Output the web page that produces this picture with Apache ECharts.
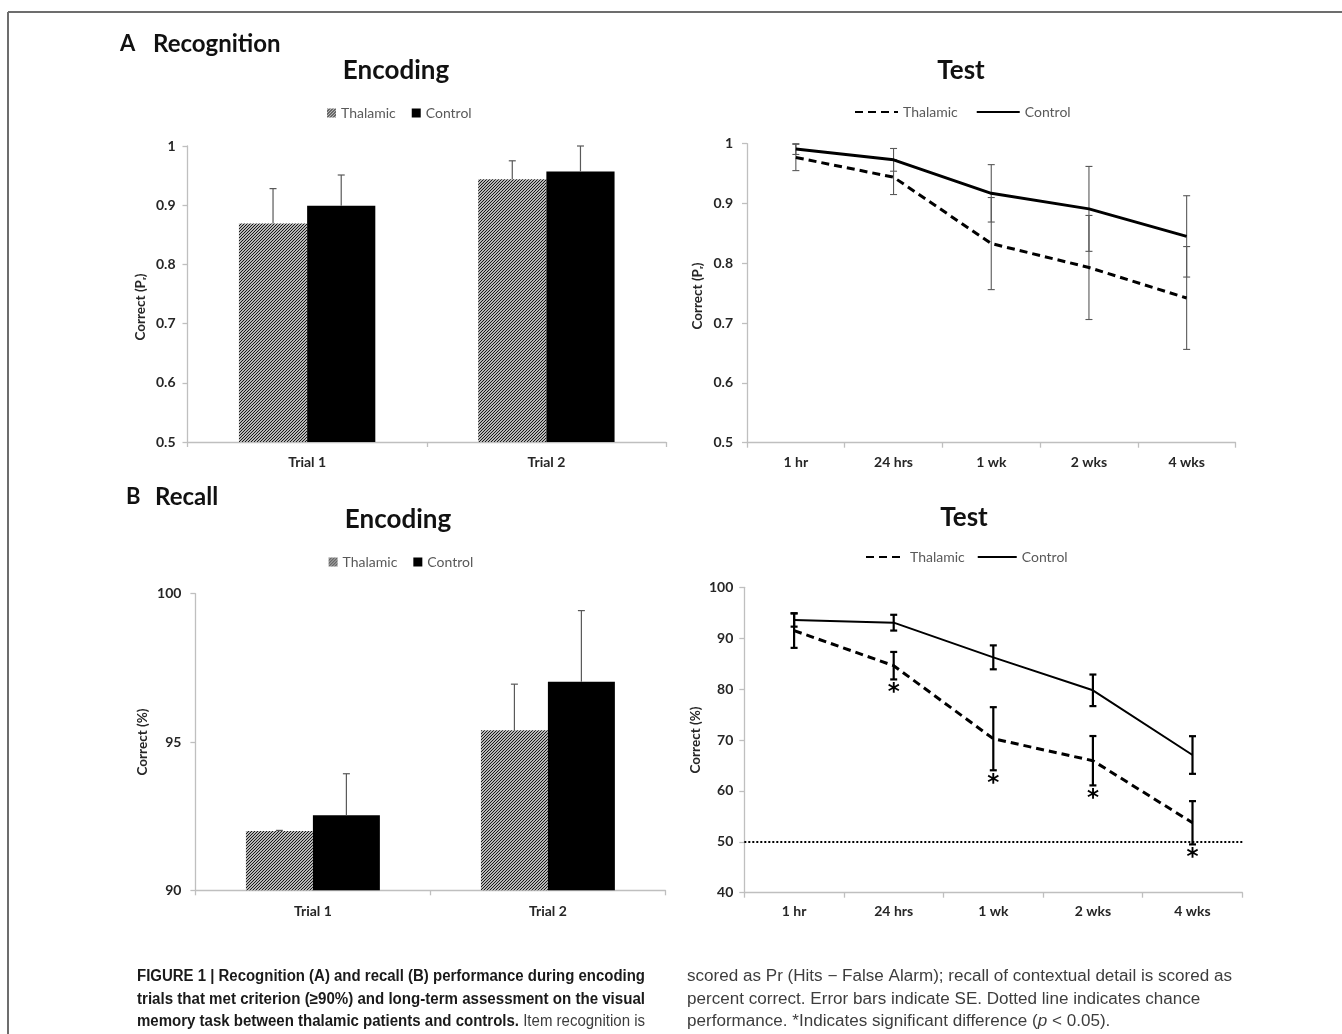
<!DOCTYPE html>
<html><head><meta charset="utf-8">
<script src="https://cdn.jsdelivr.net/npm/echarts@6/dist/echarts.min.js"></script>
<style>html,body{margin:0;padding:0;background:#fff}#c{width:1342px;height:1034px}</style>
</head><body><div id="c"></div>
<script>
// ---- data ----
const encCategories = ['Trial 1', 'Trial 2'];
const testCategories = ['1 hr', '24 hrs', '1 wk', '2 wks', '4 wks'];

const recogEncThalamic = [0.869, 0.944];
const recogEncThalamicSE = [0.059, 0.031];
const recogEncControl = [0.899, 0.957];
const recogEncControlSE = [0.052, 0.043];

const recogTestThalamic = [0.977, 0.944, 0.833, 0.793, 0.742];
const recogTestThalamicSE = [0.022, 0.029, 0.077, 0.087, 0.086];
const recogTestControl = [0.991, 0.973, 0.917, 0.891, 0.845];
const recogTestControlSE = [0.009, 0.019, 0.048, 0.071, 0.068];

const recallEncThalamic = [92.0, 95.4];
const recallEncThalamicSE = [0.02, 1.55];
const recallEncControl = [92.53, 97.03];
const recallEncControlSE = [1.4, 2.4];

const recallTestThalamic = [91.5, 84.6, 70.25, 65.93, 53.74];
const recallTestThalamicSE = [3.4, 2.7, 6.2, 4.85, 4.25];
const recallTestControl = [93.57, 93.05, 86.24, 79.76, 67.05];
const recallTestControlSE = [1.3, 1.55, 2.35, 3.1, 3.7];
const recallTestSignificant = [false, true, true, true, true];
const chanceLevel = 50;

// ---- styles ----
const FONT = 'Lato, "Open Sans", sans-serif';
const CAP_B = 'bold 16px "Liberation Sans", Arial, sans-serif';
const CAP_R = '16px "Liberation Sans", Arial, sans-serif';
const CAP_I = 'italic 16px "Liberation Sans", Arial, sans-serif';

const pc = document.createElement('canvas');
pc.width = 3; pc.height = 3;
const g = pc.getContext('2d');
g.fillStyle = '#fff'; g.fillRect(0, 0, 3, 3);
g.strokeStyle = '#111'; g.lineWidth = 1.15;
g.beginPath();
g.moveTo(0, 3); g.lineTo(3, 0);
g.moveTo(-1, 1); g.lineTo(1, -1);
g.moveTo(2, 4); g.lineTo(4, 2);
g.stroke();
const hatch = { image: pc, repeat: 'repeat' };

const mctx = document.createElement('canvas').getContext('2d');
function tw(font, s) { mctx.font = font; return mctx.measureText(s).width; }

function withSE(vals, se) { return vals.map((v, i) => [i, v, se[i]]); }

function barErr(sign, color, width) {
  return function (params, api) {
    const x = api.value(0), v = api.value(1), se = api.value(2);
    const band = api.size([1, 0])[0];
    const off = sign * band * 0.57 / 4;
    const p0 = api.coord([x, v]);
    const p1 = api.coord([x, v + se]);
    const cx = p0[0] + off;
    const st = { stroke: color, lineWidth: width };
    return { type: 'group', children: [
      { type: 'line', shape: { x1: cx, y1: p0[1], x2: cx, y2: p1[1] }, style: st },
      { type: 'line', shape: { x1: cx - 3.5, y1: p1[1], x2: cx + 3.5, y2: p1[1] }, style: st }
    ]};
  };
}
function lineErr(color, width, cap) {
  return function (params, api) {
    const x = api.value(0), v = api.value(1), se = api.value(2);
    const hi = api.coord([x, v + se]);
    const lo = api.coord([x, v - se]);
    const cx = hi[0];
    const st = { stroke: color, lineWidth: width };
    return { type: 'group', children: [
      { type: 'line', shape: { x1: cx, y1: hi[1], x2: cx, y2: lo[1] }, style: st },
      { type: 'line', shape: { x1: cx - cap, y1: hi[1], x2: cx + cap, y2: hi[1] }, style: st },
      { type: 'line', shape: { x1: cx - cap, y1: lo[1], x2: cx + cap, y2: lo[1] }, style: st }
    ]};
  };
}

const axisLineStyle = { color: '#bfbfbf', width: 1.3 };
const tickLabel = { color: '#262626', fontWeight: 'bold', fontSize: 14, fontFamily: FONT };

function xCat(grid, cats, margin) {
  return { type: 'category', gridIndex: grid, data: cats,
    axisLine: { lineStyle: axisLineStyle },
    axisTick: { show: true, length: 5, lineStyle: axisLineStyle },
    axisLabel: Object.assign({ margin: margin }, tickLabel),
    splitLine: { show: false } };
}
function yVal(grid, min, max, interval, margin) {
  return { type: 'value', gridIndex: grid, min: min, max: max, interval: interval,
    axisLine: { show: true, lineStyle: axisLineStyle },
    axisTick: { show: true, length: 5, lineStyle: axisLineStyle },
    axisLabel: Object.assign({ margin: margin }, tickLabel),
    splitLine: { show: false } };
}

const legendText = { color: '#595959', fontSize: 14, fontFamily: FONT };
const nm = n => n.split(' (')[0];

function txt(x, y, text, font, opts) {
  return Object.assign({ type: 'text', x: x, y: y, silent: true,
    style: Object.assign({ text: text, font: font, fill: '#111', align: 'center', verticalAlign: 'middle' }, (opts && opts.style) || {}) },
    (opts && opts.el) || {});
}

// caption lines
const capLeft = [
  [['b', 'FIGURE 1 | Recognition (A) and recall (B) performance during encoding']],
  [['b', 'trials that met criterion (≥90%) and long-term assessment on the visual']],
  [['b', 'memory task between thalamic patients and controls.'], ['r', ' Item recognition is']]
];
const capRight = [
  [['r', 'scored as Pr (Hits − False Alarm); recall of contextual detail is scored as']],
  [['r', 'percent correct. Error bars indicate SE. Dotted line indicates chance']],
  [['r', 'performance. *Indicates significant difference ('], ['i', 'p'], ['r', ' < 0.05).']]
];
const capFonts = { b: CAP_B, r: CAP_R, i: CAP_I };
const capRich = {
  b: { font: CAP_B, fill: '#1a1a1a' },
  r: { font: CAP_R, fill: '#3d3d3d' },
  i: { font: CAP_I, fill: '#3d3d3d' }
};
function lineWidth(parts) { return parts.reduce((s, p) => s + tw(capFonts[p[0]], p[1]), 0); }
function richStr(parts) { return parts.map(p => '{' + p[0] + '|' + p[1] + '}').join(''); }
const capY = [977, 1000, 1022];
const capEls = [];
capLeft.forEach((parts, i) => {
  capEls.push({ type: 'text', x: 137, y: capY[i], scaleX: 508 / lineWidth(parts), silent: true,
    style: { text: richStr(parts), verticalAlign: 'middle', rich: capRich } });
});
const sxR = 545 / lineWidth(capRight[0]);
capRight.forEach((parts, i) => {
  capEls.push({ type: 'text', x: 687, y: capY[i], scaleX: sxR, silent: true,
    style: { text: richStr(parts), verticalAlign: 'middle', rich: capRich } });
});

const lineLegendBase = { formatter: nm, textStyle: legendText, selectedMode: false,
  itemStyle: { opacity: 0, borderWidth: 0 } };

const chart = echarts.init(document.getElementById('c'), null, { renderer: 'canvas' });
chart.setOption({
  animation: false,
  backgroundColor: '#fff',
  grid: [
    { left: 187.5, top: 146, width: 478.5, height: 296 },
    { left: 747, top: 143.7, width: 488.5, height: 299 },
    { left: 195.4, top: 593.7, width: 470, height: 296.6 },
    { left: 744.3, top: 587.3, width: 498, height: 305.4 }
  ],
  xAxis: [
    xCat(0, encCategories, 13),
    xCat(1, testCategories, 13),
    xCat(2, encCategories, 14),
    xCat(3, testCategories, 12)
  ],
  yAxis: [
    yVal(0, 0.5, 1, 0.1, 12),
    yVal(1, 0.5, 1, 0.1, 14),
    yVal(2, 90, 100, 5, 14),
    yVal(3, 40, 100, 10, 11)
  ],
  legend: [
    { data: ['Thalamic (A-enc)', 'Control (A-enc)'], left: 322, top: 101, icon: 'rect',
      itemWidth: 9, itemHeight: 9, itemGap: 16, formatter: nm, textStyle: legendText, selectedMode: false },
    Object.assign({ data: ['Thalamic (A-test)', 'Control (A-test)'], left: 849, top: 100,
      itemWidth: 43, itemHeight: 14, itemGap: 18 }, lineLegendBase),
    { data: ['Thalamic (B-enc)', 'Control (B-enc)'], left: 323.6, top: 550, icon: 'rect',
      itemWidth: 9, itemHeight: 9, itemGap: 16, formatter: nm, textStyle: legendText, selectedMode: false },
    Object.assign({ data: ['Thalamic (B-test)', 'Control (B-test)'], left: 860, top: 545,
      itemWidth: 39, itemHeight: 14, itemGap: 12 }, lineLegendBase)
  ],
  series: [
    // A Encoding
    { name: 'Thalamic (A-enc)', type: 'bar', xAxisIndex: 0, yAxisIndex: 0, data: recogEncThalamic,
      barGap: '0%', barCategoryGap: '43%', itemStyle: { color: hatch } },
    { name: 'Control (A-enc)', type: 'bar', xAxisIndex: 0, yAxisIndex: 0, data: recogEncControl,
      barGap: '0%', barCategoryGap: '43%', itemStyle: { color: '#000' } },
    { name: 'errA1', type: 'custom', xAxisIndex: 0, yAxisIndex: 0, z: 5,
      data: withSE(recogEncThalamic, recogEncThalamicSE), renderItem: barErr(-1, '#595959', 1.2) },
    { name: 'errA2', type: 'custom', xAxisIndex: 0, yAxisIndex: 0, z: 5,
      data: withSE(recogEncControl, recogEncControlSE), renderItem: barErr(1, '#595959', 1.2) },
    // A Test
    { name: 'errA3', type: 'custom', xAxisIndex: 1, yAxisIndex: 1, z: 1,
      data: withSE(recogTestThalamic, recogTestThalamicSE), renderItem: lineErr('#595959', 1.1, 3.5) },
    { name: 'errA4', type: 'custom', xAxisIndex: 1, yAxisIndex: 1, z: 1,
      data: withSE(recogTestControl, recogTestControlSE), renderItem: lineErr('#595959', 1.1, 3.5) },
    { name: 'Thalamic (A-test)', type: 'line', xAxisIndex: 1, yAxisIndex: 1, data: recogTestThalamic,
      symbol: 'none', z: 3, lineStyle: { color: '#000', width: 3, type: [8, 5] }, itemStyle: { color: '#000' } },
    { name: 'Control (A-test)', type: 'line', xAxisIndex: 1, yAxisIndex: 1, data: recogTestControl,
      symbol: 'none', z: 3, lineStyle: { color: '#000', width: 3 }, itemStyle: { color: '#000' } },
    // B Encoding
    { name: 'Thalamic (B-enc)', type: 'bar', xAxisIndex: 2, yAxisIndex: 2, data: recallEncThalamic,
      barGap: '0%', barCategoryGap: '43%', itemStyle: { color: hatch } },
    { name: 'Control (B-enc)', type: 'bar', xAxisIndex: 2, yAxisIndex: 2, data: recallEncControl,
      barGap: '0%', barCategoryGap: '43%', itemStyle: { color: '#000' } },
    { name: 'errB1', type: 'custom', xAxisIndex: 2, yAxisIndex: 2, z: 5,
      data: withSE(recallEncThalamic, recallEncThalamicSE), renderItem: barErr(-1, '#595959', 1.2) },
    { name: 'errB2', type: 'custom', xAxisIndex: 2, yAxisIndex: 2, z: 5,
      data: withSE(recallEncControl, recallEncControlSE), renderItem: barErr(1, '#595959', 1.2) },
    // B Test
    { name: 'errB3', type: 'custom', xAxisIndex: 3, yAxisIndex: 3, z: 4,
      data: withSE(recallTestThalamic, recallTestThalamicSE), renderItem: lineErr('#000', 2.2, 3.5) },
    { name: 'errB4', type: 'custom', xAxisIndex: 3, yAxisIndex: 3, z: 4,
      data: withSE(recallTestControl, recallTestControlSE), renderItem: lineErr('#000', 2.2, 3.5) },
    { name: 'Thalamic (B-test)', type: 'line', xAxisIndex: 3, yAxisIndex: 3, data: recallTestThalamic,
      symbol: 'none', z: 3, lineStyle: { color: '#000', width: 3, type: [8, 5] }, itemStyle: { color: '#000' },
      markLine: { silent: true, symbol: 'none', label: { show: false },
        lineStyle: { color: '#000', width: 2, type: [2, 2] }, data: [{ yAxis: chanceLevel }] } },
    { name: 'Control (B-test)', type: 'line', xAxisIndex: 3, yAxisIndex: 3, data: recallTestControl,
      symbol: 'none', z: 3, lineStyle: { color: '#000', width: 2 }, itemStyle: { color: '#000' } },
    { name: 'sig', type: 'custom', xAxisIndex: 3, yAxisIndex: 3, z: 6,
      data: recallTestThalamic.map((v, i) => recallTestSignificant[i] ? [i, v - recallTestThalamicSE[i]] : null).filter(d => d),
      renderItem: function (params, api) {
        const p = api.coord([api.value(0), api.value(1)]);
        return { type: 'text', x: p[0], y: p[1] + 2,
          style: { text: '*', font: 'bold 23px "DejaVu Sans"', fill: '#000', align: 'center', verticalAlign: 'top' } };
      } }
  ],
  graphic: [
    { type: 'line', shape: { x1: 8, y1: 12, x2: 1342, y2: 12 }, style: { stroke: '#6d6d6d', lineWidth: 2 }, silent: true },
    { type: 'line', shape: { x1: 8, y1: 12, x2: 8, y2: 1034 }, style: { stroke: '#6d6d6d', lineWidth: 2 }, silent: true },
    txt(120, 44, 'A', 'bold 22px ' + FONT, { style: { align: 'left' } }),
    txt(153, 44, 'Recognition', 'bold 24px ' + FONT, { style: { align: 'left' } }),
    txt(396, 71, 'Encoding', 'bold 26px ' + FONT),
    txt(961, 71, 'Test', 'bold 26px ' + FONT),
    txt(126, 497, 'B', 'bold 22px ' + FONT, { style: { align: 'left' } }),
    txt(155, 497, 'Recall', 'bold 24px ' + FONT, { style: { align: 'left' } }),
    txt(398, 520, 'Encoding', 'bold 26px ' + FONT),
    txt(964, 518, 'Test', 'bold 26px ' + FONT),
    txt(141, 307, 'Correct (Pᵣ)', 'bold 13.5px ' + FONT, { el: { rotation: Math.PI / 2 }, style: { fill: '#262626' } }),
    txt(698, 296, 'Correct (Pᵣ)', 'bold 13.5px ' + FONT, { el: { rotation: Math.PI / 2 }, style: { fill: '#262626' } }),
    txt(143, 742, 'Correct (%)', 'bold 13.5px ' + FONT, { el: { rotation: Math.PI / 2 }, style: { fill: '#262626' } }),
    txt(696, 740, 'Correct (%)', 'bold 13.5px ' + FONT, { el: { rotation: Math.PI / 2 }, style: { fill: '#262626' } })
  ].concat(capEls)
});
</script>
</body></html>
